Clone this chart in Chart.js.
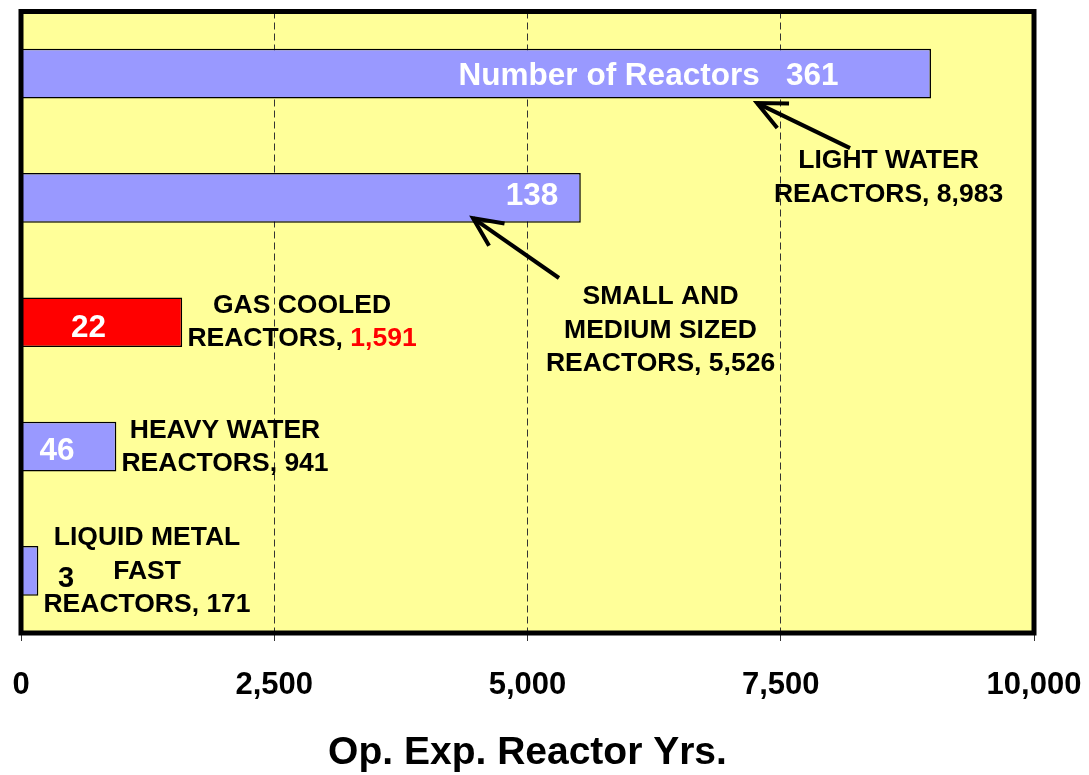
<html>
  <head>
    <meta charset="utf-8" />
    <title>Op. Exp. Reactor Yrs.</title>
    <style>
      body { margin: 0; background: #ffffff; }
    </style>
  </head>
  <body>
    <canvas id="canvasBar" width="1089" height="775"></canvas>

    <script src="https://cdn.jsdelivr.net/npm/chart.js"></script>
    <script>
      // reactor types, top to bottom (multi-line names)
      var categories = [
        ["LIGHT WATER"],
        ["SMALL AND", "MEDIUM SIZED"],
        ["GAS COOLED"],
        ["HEAVY WATER"],
        ["LIQUID METAL", "FAST"],
      ];
      // operating experience, reactor years
      var opYears = [8983, 5526, 1591, 941, 171];
      // number of reactors of each type
      var reactorCounts = [361, 138, 22, 46, 3];
      // x axis ticks
      var xTicks = [0, 2500, 5000, 7500, 10000];

      var barColors = ["#9999FF", "#9999FF", "#FF0000", "#9999FF", "#9999FF"];
      var valueColors = ["#000000", "#000000", "#FF0000", "#000000", "#000000"];

      // where the name labels sit (x in reactor yrs, y in category units)
      var namePos = [
        { x: 8564, y: 0.836 },
        { x: 6313, y: 2.067 },
        { x: 2774, y: 1.998 },
        { x: 2014, y: 3.004 },
        { x: 1244, y: 4.003 },
      ];
      // where the reactor counts sit
      var countPos = [
        { x: 6195, y: 0.02, color: "#FFFFFF", size: 31.5 },
        { x: 5044, y: 0.985, color: "#FFFFFF", size: 31.5 },
        { x: 666, y: 2.05, color: "#FFFFFF", size: 31.5 },
        { x: 355, y: 3.036, color: "#FFFFFF", size: 31.5 },
        { x: 444, y: 4.066, color: "#000000", size: 29 },
      ];
      // arrows from label to bar
      var arrows = [
        { from: [8184, 0.599], to: [7266, 0.237] },
        { from: [5311, 1.644], to: [4462, 1.162] },
      ];

      var FONT = '"Liberation Sans", Arial, sans-serif';

      function fmt(v) {
        return v.toLocaleString("en-US");
      }

      // yellow plot area and thick black frame
      var framePlugin = {
        id: "frame",
        beforeDraw: function (chart) {
          var a = chart.chartArea;
          var ctx = chart.ctx;
          ctx.save();
          ctx.fillStyle = "#FFFF99";
          ctx.fillRect(a.left, a.top, a.right - a.left, a.bottom - a.top);
          ctx.restore();
        },
        afterDatasetsDraw: function (chart) {
          var a = chart.chartArea;
          var ctx = chart.ctx;
          ctx.save();
          ctx.strokeStyle = "#000000";
          ctx.lineWidth = 5;
          ctx.strokeRect(a.left, a.top, a.right - a.left, a.bottom - a.top);
          ctx.restore();
        },
      };

      // texts and arrows
      var notesPlugin = {
        id: "notes",
        afterDatasetsDraw: function (chart) {
          var ctx = chart.ctx;
          var xs = chart.scales.x;
          var ys = chart.scales.y;
          ctx.save();
          ctx.textBaseline = "middle";

          // reactor counts
          for (let i = 0; i < reactorCounts.length; i++) {
            var p = countPos[i];
            var txt = (i == 0 ? "Number of Reactors   " : "") + reactorCounts[i];
            ctx.font = "bold " + p.size + "px " + FONT;
            ctx.fillStyle = p.color;
            ctx.textAlign = "center";
            ctx.fillText(txt, xs.getPixelForValue(p.x), ys.getPixelForValue(p.y));
          }

          // names with op. years
          ctx.font = "bold 26.5px " + FONT;
          ctx.textAlign = "left";
          var lh = 33.5;
          for (let i = 0; i < categories.length; i++) {
            var lines = categories[i].map((s) => [[s, "#000000"]]);
            lines.push([
              ["REACTORS, ", "#000000"],
              [fmt(opYears[i]), valueColors[i]],
            ]);
            var cx = xs.getPixelForValue(namePos[i].x);
            var cy = ys.getPixelForValue(namePos[i].y);
            var y0 = cy - ((lines.length - 1) * lh) / 2;
            lines.forEach((parts, k) => {
              var w = 0;
              parts.forEach((pt) => (w += ctx.measureText(pt[0]).width));
              var x = cx - w / 2;
              parts.forEach((pt) => {
                ctx.fillStyle = pt[1];
                ctx.fillText(pt[0], x, y0 + k * lh);
                x += ctx.measureText(pt[0]).width;
              });
            });
          }

          // arrows
          ctx.strokeStyle = "#000000";
          ctx.lineWidth = 4;
          ctx.lineCap = "butt";
          arrows.forEach((ar) => {
            var x1 = xs.getPixelForValue(ar.from[0]);
            var y1 = ys.getPixelForValue(ar.from[1]);
            var x2 = xs.getPixelForValue(ar.to[0]);
            var y2 = ys.getPixelForValue(ar.to[1]);
            var ang = Math.atan2(y1 - y2, x1 - x2);
            var hl = 32;
            var spread = (25 * Math.PI) / 180;
            ctx.beginPath();
            ctx.moveTo(x1, y1);
            ctx.lineTo(x2, y2);
            ctx.stroke();
            ctx.beginPath();
            ctx.moveTo(x2 + hl * Math.cos(ang - spread), y2 + hl * Math.sin(ang - spread));
            ctx.lineTo(x2, y2);
            ctx.lineTo(x2 + hl * Math.cos(ang + spread), y2 + hl * Math.sin(ang + spread));
            ctx.stroke();
          });
          ctx.restore();
        },
      };

      var ctx = document.getElementById("canvasBar").getContext("2d");
      var barChart = new Chart(ctx, {
        type: "bar",
        data: {
          labels: categories,
          datasets: [
            {
              label: "Op. Exp. Reactor Yrs.",
              data: opYears,
              backgroundColor: barColors,
              borderColor: "#000000",
              borderWidth: 1.5,
              borderSkipped: false,
              categoryPercentage: 0.8,
              barPercentage: 0.5,
            },
          ],
        },
        options: {
          indexAxis: "y",
          responsive: false,
          animation: false,
          devicePixelRatio: 1,
          layout: {
            padding: { left: 21, right: 55, top: 11.5, bottom: 0 },
          },
          plugins: {
            legend: { display: false },
            tooltip: { enabled: false },
          },
          scales: {
            y: {
              display: false,
            },
            x: {
              min: 0,
              max: 10000,
              afterBuildTicks: function (scale) {
                scale.ticks = xTicks.map((v) => ({ value: v }));
              },
              afterFit: function (scale) {
                scale.height = 142;
                // tick labels may hang over the edges, like the original
                scale.paddingLeft = 0;
                scale.paddingRight = 0;
              },
              grid: {
                color: "#333333",
                lineWidth: 1,
                tickLength: 8,
                tickColor: "#333333",
              },
              border: { display: false, dash: [7, 4] },
              ticks: {
                padding: 26,
                color: "#000000",
                font: { family: FONT, size: 31, weight: "bold" },
                maxRotation: 0,
                callback: function (v) {
                  return fmt(v);
                },
              },
              title: {
                display: true,
                text: "Op. Exp. Reactor Yrs.",
                color: "#000000",
                font: { family: FONT, size: 39, weight: "bold" },
                padding: { top: 0, bottom: -2 },
              },
            },
          },
        },
        plugins: [framePlugin, notesPlugin],
      });
    </script>
  </body>
</html>
